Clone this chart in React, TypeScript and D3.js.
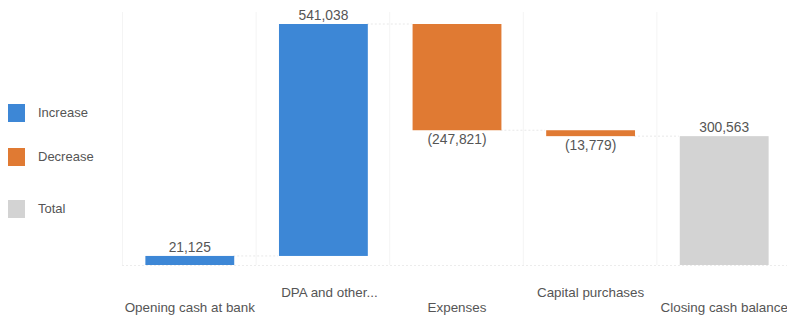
import React from "react";
import * as d3 from "d3";

const categories = ["Opening cash at bank", "DPA and other...", "Expenses", "Capital purchases", "Closing cash balance"];
const values = [21125, 541038, -247821, -13779, 300563];
const kinds = ["increase", "increase", "decrease", "decrease", "total"];
const valueLabels = ["21,125", "541,038", "(247,821)", "(13,779)", "300,563"];
const legendItems = ["Increase", "Decrease", "Total"];

const W = 787;
const H = 315;
const colors: Record<string, string> = { increase: "#3d87d6", decrease: "#e07a33", total: "#d3d3d3" };
const legendColors = ["#3d87d6", "#e07a33", "#d3d3d3"];

export default function App() {
  let running = 0;
  const segs = values.map((v, i) => {
    if (kinds[i] === "total") {
      return { start: 0, end: v };
    }
    const s = running;
    running += v;
    return { start: s, end: running };
  });
  const maxV = d3.max(segs, (d) => Math.max(d.start, d.end)) as number;

  const x = d3.scaleBand<string>().domain(categories).range([122, 790]).padding(0);
  const y = d3.scaleLinear().domain([0, maxV]).range([265, 24]);
  const bw = x.bandwidth() * 0.665;
  const font = "'Liberation Sans', Arial, sans-serif";

  return (
    <svg width={W} height={H} style={{ position: "absolute", left: 0, top: 0, background: "#fff" }}>
      {categories.map((c) => (
        <line key={"g" + c} x1={(x(c) as number) + 0.5} x2={(x(c) as number) + 0.5} y1={12} y2={265} stroke="#f4f4f4" strokeWidth={1} />
      ))}
      <line x1={122} x2={790} y1={y(0) + 0.5} y2={y(0) + 0.5} stroke="#ececec" strokeDasharray="2,2" />
      {segs.slice(0, -1).map((s, i) => {
        const xa = (x(categories[i]) as number) + x.bandwidth() / 2 + bw / 2;
        const xb = (x(categories[i + 1]) as number) + x.bandwidth() / 2 - bw / 2;
        return (
          <line key={"c" + i} x1={xa} x2={xb} y1={y(s.end)} y2={y(s.end)} stroke="#e8e8e8" strokeDasharray="2,2" />
        );
      })}
      {segs.map((s, i) => {
        const cx = (x(categories[i]) as number) + x.bandwidth() / 2;
        const top = y(Math.max(s.start, s.end));
        const bot = y(Math.min(s.start, s.end));
        return (
          <rect key={"b" + i} x={cx - bw / 2 + 1} y={top} width={bw} height={bot - top} fill={colors[kinds[i]]} />
        );
      })}
      {segs.map((s, i) => {
        const cx = (x(categories[i]) as number) + x.bandwidth() / 2 + 1;
        const neg = values[i] < 0;
        const yy = neg ? y(Math.min(s.start, s.end)) + 14 : y(Math.max(s.start, s.end)) - 4;
        return (
          <text key={"v" + i} x={cx} y={yy} textAnchor="middle" fontFamily={font} fontSize={13.8} fill="#555">
            {valueLabels[i]}
          </text>
        );
      })}
      {categories.map((c, i) => (
        <text
          key={"l" + c}
          x={(x(c) as number) + x.bandwidth() / 2 + (i === 1 ? 7 : 1)}
          y={i % 2 === 0 ? 312 : 297}
          textAnchor="middle"
          fontFamily={font}
          fontSize={13.4}
          fill="#555"
        >
          {c}
        </text>
      ))}
      {legendItems.map((l, i) => {
        const ly = [104, 148, 200][i];
        return (
          <g key={"lg" + l}>
            <rect x={8} y={ly} width={17} height={18} fill={legendColors[i]} />
            <text x={38} y={ly + 13} fontFamily={font} fontSize={13} fill="#555">
              {l}
            </text>
          </g>
        );
      })}
    </svg>
  );
}
